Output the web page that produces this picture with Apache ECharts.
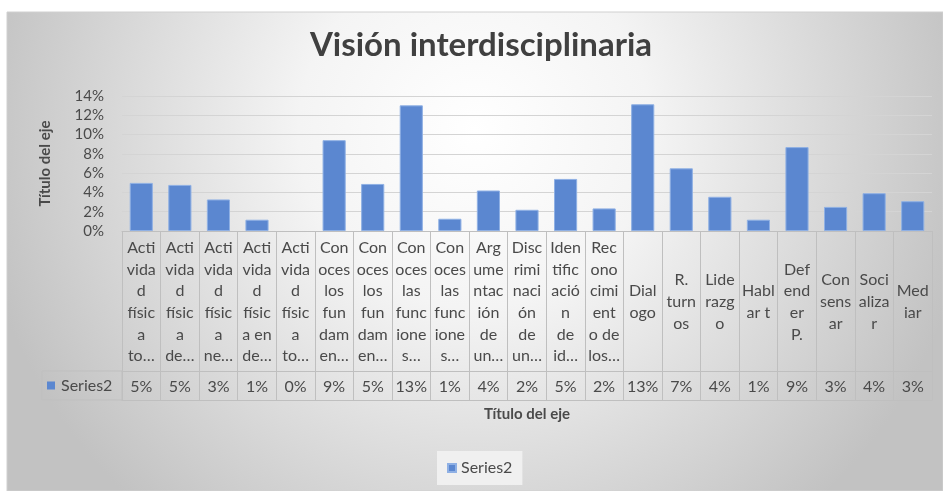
<!DOCTYPE html>
<html>
<head>
<meta charset="utf-8">
<script src="https://cdn.jsdelivr.net/npm/echarts@6/dist/echarts.min.js"></script>
<style>html,body{margin:0;padding:0;background:#fff}#c{width:943px;height:491px}</style>
</head>
<body>
<div id="c"></div>
<script>
// ---- data ----
const chartTitle = 'Visión interdisciplinaria';
const seriesName = 'Series2';
const axisTitle = 'Título del eje';
const categories = [
  'Acti\nvida\nd\nfísic\na\nto…',
  'Acti\nvida\nd\nfísic\na\nde…',
  'Acti\nvida\nd\nfísic\na\nne…',
  'Acti\nvida\nd\nfísic\na en\nde…',
  'Acti\nvida\nd\nfísic\na\nto…',
  'Con\noces\nlos\nfun\ndam\nen…',
  'Con\noces\nlos\nfun\ndam\nen…',
  'Con\noces\nlas\nfunc\nione\ns…',
  'Con\noces\nlas\nfunc\nione\ns…',
  'Arg\nume\nntac\nión\nde\nun…',
  'Disc\nrimi\nnaci\nón\nde\nun…',
  'Iden\ntific\nació\nn\nde\nid…',
  'Rec\nono\ncimi\nent\no de\nlos…',
  'Dial\nogo',
  'R.\nturn\nos',
  'Lide\nrazg\no',
  'Habl\nar t',
  'Def\nend\ner\nP.',
  'Con\nsens\nar',
  'Soci\naliza\nr',
  'Med\niar'
];
const values = [4.99, 4.78, 3.27, 1.17, 0, 9.42, 4.88, 13.03, 1.27, 4.2, 2.2, 5.4, 2.34, 13.14, 6.5, 3.55, 1.17, 8.7, 2.5, 3.92, 3.09];
const yTicks = [0, 2, 4, 6, 8, 10, 12, 14];

// ---- layout ----
const W = 943, H = 491;
const G = {left: 122, right: 11, top: 96, bottom: 260};
const axisY = H - G.bottom;
const labelRowH = 140, valueRowH = 29;
const rowTop = axisY + labelRowH, rowBottom = rowTop + valueRowH;
const FONT = 'Lato, "Open Sans", sans-serif';
const TXT = '#4a4a4a', LINE = '#bfbfbf', BAR = '#5b87d0';

const chart = echarts.init(document.getElementById('c'), null, {renderer: 'canvas'});
chart.setOption({
  animation: false,
  textStyle: {fontFamily: FONT},
  title: {
    text: chartTitle, left: 481, top: 29, padding: 0, textAlign: 'center',
    textStyle: {fontFamily: FONT, fontSize: 33, fontWeight: 'bold', color: '#404040'}
  },
  legend: {
    data: [seriesName], left: 437, top: 451, padding: [9, 10],
    backgroundColor: 'rgba(242,242,242,0.9)',
    icon: 'rect', itemWidth: 8, itemHeight: 8, itemGap: 5,
    textStyle: {fontFamily: FONT, fontSize: 16, color: TXT}
  },
  graphic: [
    {type: 'rect', z: -100, silent: true,
     shape: {x: 7, y: 12, width: W - 7, height: H - 12},
     style: {fill: {type: 'radial', x: 0.5, y: 0.25, r: 1.05,
       colorStops: [{offset: 0, color: '#ffffff'}, {offset: 0.35, color: '#f4f4f4'}, {offset: 1, color: '#c2c2c2'}]},
       stroke: '#d0d0d0', lineWidth: 1}},
    {type: 'rect', silent: true,
     shape: {x: 42, y: rowTop, width: G.left - 42, height: valueRowH},
     style: {fill: 'none', stroke: LINE, lineWidth: 1}},
    {type: 'rect', silent: true,
     shape: {x: 47, y: rowTop + valueRowH / 2 - 4, width: 8, height: 8},
     style: {fill: BAR}},
    {type: 'text', silent: true, x: 61, y: rowTop + valueRowH / 2,
     style: {text: seriesName, fontFamily: FONT, fontSize: 16, fill: TXT, verticalAlign: 'middle', align: 'left'}}
  ],
  grid: {left: G.left, right: G.right, top: G.top, bottom: G.bottom, containLabel: false},
  xAxis: [
    {
      type: 'category', data: categories, position: 'bottom',
      axisLine: {show: true, lineStyle: {color: LINE, width: 1}},
      axisTick: {show: true, length: labelRowH + valueRowH, lineStyle: {color: LINE}},
      axisLabel: {interval: 0, margin: 71, verticalAlign: 'middle', align: 'center',
        fontFamily: FONT, fontSize: 16, lineHeight: 21.7, color: TXT},
      splitLine: {show: false}
    },
    {
      type: 'category', data: values.map(v => Math.round(v) + '%'), position: 'bottom', offset: labelRowH,
      axisLine: {show: true, lineStyle: {color: LINE, width: 1}},
      axisTick: {show: false},
      axisLabel: {interval: 0, margin: 15.5, verticalAlign: 'middle', fontFamily: FONT, fontSize: 16, color: TXT}
    },
    {
      type: 'category', data: categories, position: 'bottom', offset: labelRowH + valueRowH,
      axisLine: {show: true, lineStyle: {color: LINE, width: 1}},
      axisTick: {show: false}, axisLabel: {show: false},
      name: axisTitle, nameLocation: 'middle', nameGap: 7,
      nameTextStyle: {fontFamily: FONT, fontSize: 15, fontWeight: 'bold', color: TXT}
    }
  ],
  yAxis: {
    type: 'value', min: yTicks[0], max: yTicks[yTicks.length - 1], interval: yTicks[1] - yTicks[0],
    axisLine: {show: false}, axisTick: {show: false},
    axisLabel: {formatter: '{value}%', margin: 18, fontFamily: FONT, fontSize: 15, color: TXT},
    splitLine: {lineStyle: {color: '#d4d4d4', width: 1}},
    name: axisTitle, nameLocation: 'middle', nameGap: 69, nameRotate: 90,
    nameTextStyle: {fontFamily: FONT, fontSize: 15, fontWeight: 'bold', color: TXT}
  },
  series: [{
    name: seriesName, type: 'bar', xAxisIndex: 0, barWidth: '60%',
    data: values.map(v => (v === 0 ? {value: v, itemStyle: {borderWidth: 0}} : v)),
    itemStyle: {color: BAR, borderColor: '#8fb0e4', borderWidth: 1}
  }]
});
</script>
</body>
</html>
